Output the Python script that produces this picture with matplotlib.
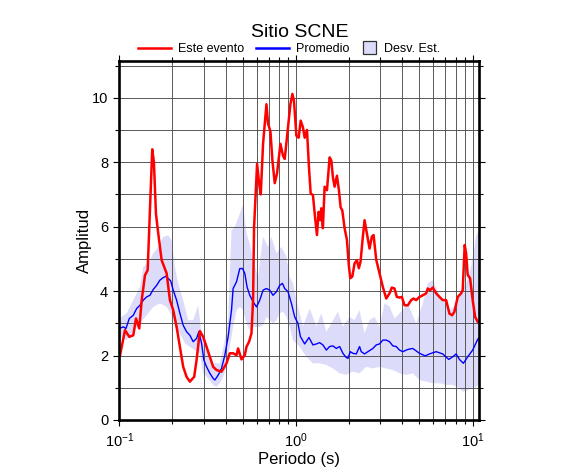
import numpy as np
import matplotlib
matplotlib.use("Agg")
import matplotlib.pyplot as plt
import matplotlib.patches as mpatches
from matplotlib.lines import Line2D
from matplotlib.legend_handler import HandlerPatch
from matplotlib.ticker import LogLocator, MultipleLocator, NullFormatter

plt.rcParams['font.family'] = ['Liberation Sans', 'DejaVu Sans']

# Este evento (red)
red_T = [0.1009, 0.1077, 0.1139, 0.1200, 0.1243, 0.1297, 0.1339, 0.1397, 0.1447, 0.1497,
         0.1536, 0.1570, 0.1612, 0.1661, 0.1736, 0.1853, 0.1934, 0.2019, 0.2110, 0.2203,
         0.2299, 0.2403, 0.2508, 0.2653, 0.2737, 0.2857, 0.2983, 0.3118, 0.3254, 0.3397,
         0.3550, 0.3789, 0.4045, 0.4222, 0.4407, 0.4606, 0.4703, 0.4915, 0.5131, 0.5245,
         0.5426, 0.5598, 0.5716, 0.5791, 0.6022, 0.6180, 0.6318, 0.6510, 0.6804, 0.6947,
         0.7168, 0.7356, 0.7580, 0.7810, 0.8163, 0.8444, 0.8633, 0.9013, 0.9298, 0.9543,
         0.9743, 1.005, 1.036, 1.063, 1.095, 1.120, 1.154, 1.184, 1.211, 1.247,
         1.287, 1.314, 1.343, 1.373, 1.391, 1.420, 1.452, 1.497, 1.550, 1.585,
         1.618, 1.654, 1.705, 1.750, 1.789, 1.829, 1.884, 1.942, 1.993, 2.029,
         2.083, 2.146, 2.211, 2.269, 2.320, 2.390, 2.444, 2.518, 2.608, 2.688,
         2.748, 2.846, 2.971, 3.101, 3.241, 3.384, 3.486, 3.611, 3.721, 3.854,
         3.972, 4.113, 4.294, 4.487, 4.624, 4.788, 5.0, 5.219, 5.455, 5.570,
         5.746, 5.943, 6.212, 6.485, 6.770, 7.076, 7.388, 7.651, 7.884, 8.230,
         8.602, 8.782, 9.013, 9.180, 9.371, 9.667, 10.0, 10.32, 10.67, 10.9]
red_A = [2.00, 2.79, 2.58, 2.63, 3.15, 2.84, 3.72, 4.49, 4.65, 6.80,
         8.40, 8.00, 6.40, 5.79, 4.96, 4.55, 3.72, 3.41, 2.89, 2.27,
         1.65, 1.34, 1.19, 1.34, 1.86, 2.76, 2.58, 2.27, 1.96, 1.65,
         1.55, 1.50, 1.76, 2.07, 2.07, 2.01, 2.22, 1.88, 2.01, 2.27,
         2.43, 2.69, 3.72, 5.98, 7.95, 7.35, 7.00, 8.57, 9.80, 9.20,
         8.95, 8.05, 7.35, 7.65, 8.57, 8.20, 8.10, 9.08, 9.80, 10.12,
         9.90, 8.82, 8.76, 9.29, 9.08, 8.76, 9.00, 7.85, 7.03, 6.98,
         6.20, 5.74, 6.46, 6.20, 6.57, 5.95, 7.24, 7.13, 8.15, 8.05,
         7.53, 7.24, 7.58, 7.13, 6.60, 6.50, 5.95, 5.59, 4.77, 4.40,
         4.45, 4.86, 4.96, 4.71, 4.92, 5.69, 6.20, 5.79, 5.32, 5.69,
         5.74, 4.97, 4.55, 4.13, 3.77, 3.93, 4.11, 4.08, 3.82, 3.80,
         3.82, 3.56, 3.56, 3.72, 3.77, 3.72, 3.82, 3.87, 3.93, 4.08,
         4.03, 4.11, 3.93, 3.82, 3.72, 3.72, 3.30, 3.25, 3.36, 3.82,
         3.93, 4.03, 5.43, 5.17, 4.50, 4.40, 3.72, 3.20, 3.05, 3.02]

# Promedio (blue)
blue_T = [0.1, 0.1053, 0.1091, 0.1139, 0.1200, 0.1254, 0.1309, 0.1367, 0.1428, 0.1491,
          0.1556, 0.1627, 0.1698, 0.1773, 0.1836, 0.1892, 0.1952, 0.2019, 0.2110, 0.2203,
          0.2299, 0.2403, 0.2508, 0.2619, 0.2737, 0.2820, 0.2921, 0.3010, 0.3118, 0.3254,
          0.3397, 0.3472, 0.3625, 0.3789, 0.3956, 0.4129, 0.4315, 0.4407, 0.4606, 0.4808,
          0.4981, 0.5131, 0.5285, 0.5475, 0.5716, 0.5975, 0.6237, 0.6510, 0.6804, 0.7102,
          0.7413, 0.7749, 0.8088, 0.8378, 0.8633, 0.9013, 0.9419, 0.9833, 1.026, 1.059,
          1.120, 1.184, 1.247, 1.304, 1.361, 1.420, 1.485, 1.550, 1.618, 1.691,
          1.766, 1.843, 1.909, 1.967, 2.029, 2.099, 2.194, 2.290, 2.341, 2.444,
          2.552, 2.723, 2.846, 2.971, 3.101, 3.241, 3.384, 3.532, 3.692, 3.854,
          4.023, 4.294, 4.581, 5.0, 5.385, 5.694, 6.212, 6.770, 7.320, 7.709,
          8.058, 8.412, 8.862, 9.371, 10.0, 10.67, 10.9]
blue_A = [2.84, 2.89, 2.84, 3.15, 3.25, 3.46, 3.56, 3.72, 3.82, 3.87,
          4.05, 4.18, 4.34, 4.42, 4.46, 4.39, 4.32, 4.03, 3.72, 3.31,
          2.94, 2.74, 2.63, 2.43, 2.53, 2.74, 2.38, 1.86, 1.65, 1.45,
          1.29, 1.24, 1.39, 1.60, 2.01, 2.58, 3.41, 4.08, 4.29, 4.70,
          4.70, 4.55, 4.13, 3.87, 3.67, 3.51, 3.72, 4.03, 4.08, 4.03,
          3.87, 3.98, 4.18, 4.24, 4.08, 3.98, 3.62, 3.20, 3.00, 2.59,
          2.36, 2.56, 2.33, 2.36, 2.40, 2.33, 2.17, 2.28, 2.30, 2.22,
          2.28, 2.07, 1.96, 1.91, 2.12, 2.07, 2.05, 2.28, 2.12, 2.05,
          2.12, 2.22, 2.33, 2.36, 2.48, 2.48, 2.43, 2.30, 2.28, 2.17,
          2.12, 2.19, 2.22, 2.07, 1.99, 2.05, 2.12, 2.05, 1.88, 1.96,
          2.05, 1.88, 1.76, 1.96, 2.17, 2.50, 2.56]

# Desv. Est. band
up_T = [0.1, 0.1101, 0.1200, 0.1309, 0.1367, 0.1491, 0.1556, 0.1661, 0.1773, 0.1892,
        0.1977, 0.2064, 0.2154, 0.2299, 0.2453, 0.2619, 0.2795, 0.2921, 0.3118, 0.3397,
        0.3706, 0.3956, 0.4129, 0.4315, 0.4505, 0.4808, 0.5020, 0.5245, 0.5475, 0.5716,
        0.6100, 0.6510, 0.6947, 0.7261, 0.7749, 0.8269, 0.8828, 0.9213, 0.9617, 1.026,
        1.095, 1.195, 1.304, 1.391, 1.485, 1.585, 1.728, 1.843, 2.011, 2.146,
        2.290, 2.444, 2.608, 2.784, 2.971, 3.170, 3.384, 3.611, 3.940, 4.294,
        4.788, 5.219, 5.570, 5.943, 6.485, 6.921, 7.388, 7.884, 8.412, 9.180,
        9.795, 10.45, 10.9]
up_A = [3.15, 3.31, 3.72, 4.13, 4.75, 4.96, 5.17, 5.37, 5.68, 5.73,
        5.58, 4.75, 4.24, 3.72, 3.10, 3.10, 3.56, 2.69, 2.27, 1.76,
        1.76, 2.48, 3.10, 5.89, 5.99, 6.40, 6.70, 5.79, 5.48, 4.96,
        4.44, 5.68, 5.37, 5.68, 5.17, 5.37, 5.07, 4.44, 4.24, 3.52,
        2.90, 3.46, 2.90, 3.31, 2.74, 3.00, 3.36, 2.90, 3.20, 3.10,
        3.41, 2.69, 3.10, 3.20, 2.90, 3.62, 3.52, 3.15, 3.36, 3.62,
        3.00, 3.62, 4.24, 4.34, 3.88, 3.72, 3.41, 3.52, 3.93, 4.24,
        4.76, 5.69, 5.95]
lo_T = [0.1, 0.1101, 0.1200, 0.1309, 0.1428, 0.1556, 0.1698, 0.1853, 0.1977, 0.2064,
        0.2203, 0.2350, 0.2508, 0.2677, 0.2857, 0.2983, 0.3183, 0.3397, 0.3550, 0.3706,
        0.3869, 0.4045, 0.4222, 0.4407, 0.4606, 0.4808, 0.5020, 0.5245, 0.5475, 0.5716,
        0.6237, 0.6510, 0.6804, 0.7102, 0.7413, 0.7749, 0.8088, 0.8444, 0.8828, 0.9213,
        0.9617, 1.049, 1.145, 1.247, 1.361, 1.485, 1.618, 1.766, 1.927, 2.099,
        2.290, 2.498, 2.723, 2.971, 3.241, 3.532, 3.854, 4.205, 4.581, 5.0,
        5.455, 5.943, 6.485, 7.076, 7.709, 8.412, 8.782, 9.371, 10.0, 10.9]
lo_A = [2.58, 2.48, 2.74, 3.00, 3.25, 3.51, 3.62, 3.51, 3.25, 2.89,
        2.69, 2.38, 2.27, 2.17, 2.07, 1.45, 1.29, 1.08, 1.03, 1.14,
        1.34, 1.65, 2.27, 2.89, 3.41, 3.51, 3.41, 3.00, 2.79, 2.89,
        2.89, 2.94, 3.20, 3.10, 3.00, 3.10, 3.31, 3.36, 3.20, 2.89,
        2.48, 2.28, 1.96, 1.76, 1.76, 1.71, 1.60, 1.45, 1.40, 1.50,
        1.45, 1.65, 1.60, 1.65, 1.60, 1.55, 1.45, 1.40, 1.45, 1.24,
        1.19, 1.14, 1.14, 1.09, 1.09, 0.98, 0.88, 0.93, 0.98, 1.09]

band_color = '#dcdcfa'

fig = plt.figure(figsize=(5.86, 4.75), dpi=100)
ax = fig.add_axes([0.2036, 0.1158, 0.6143, 0.7564])

ax.fill(np.r_[up_T, lo_T[::-1]], np.r_[up_A, lo_A[::-1]], color=band_color, lw=0, zorder=1)
ax.plot(blue_T, blue_A, color='#0000ff', lw=1.0, zorder=3)
ax.plot(red_T, red_A, color='#ff0000', lw=1.8, zorder=4)

ax.set_xscale('log')
ax.set_xlim(0.1, 10.9)
ax.set_ylim(0, 11.15)
ax.xaxis.set_major_locator(LogLocator(base=10))
ax.xaxis.set_minor_locator(LogLocator(base=10, subs=np.arange(2, 10)))
ax.xaxis.set_minor_formatter(NullFormatter())
ax.yaxis.set_major_locator(MultipleLocator(2))
ax.yaxis.set_minor_locator(MultipleLocator(1))

ax.grid(True, which='both', color='#4d4d4d', lw=0.65, zorder=2)
ax.set_axisbelow(False)
for s in ax.spines.values():
    s.set_linewidth(1.9)
    s.set_zorder(5)

ax.tick_params(which='both', direction='out', top=True, right=True, labelsize=10.5, width=0.8)
ax.tick_params(which='major', length=4, pad=4)
ax.tick_params(which='minor', length=3)

ax.set_xlabel('Periodo (s)', fontsize=12, labelpad=2)
ax.set_ylabel('Amplitud', fontsize=12, labelpad=0)
ax.set_title('Sitio SCNE', fontsize=14, pad=17)


def square_patch(legend, orig_handle, xdescent, ydescent, width, height, fontsize):
    s = width
    return mpatches.Rectangle((-xdescent, -ydescent + (height - s) / 2), s, s)


line_handles = [Line2D([], [], color='#ff0000', lw=1.8),
                Line2D([], [], color='#0000ff', lw=1.8)]
leg1 = ax.legend(line_handles, ['Este evento', 'Promedio'], loc='center',
                 bbox_to_anchor=(0.345, 1.0326), ncol=2, frameon=False, fontsize=9,
                 handlelength=2.65, handletextpad=0.55, columnspacing=1.0,
                 borderpad=0, borderaxespad=0)
ax.add_artist(leg1)

band_handle = mpatches.Patch(facecolor=band_color, edgecolor='#333333', lw=0.9)
ax.legend([band_handle], ['Desv. Est.'], loc='center', bbox_to_anchor=(0.784, 1.0326),
          frameon=False, fontsize=9, handlelength=1.05, handletextpad=0.7,
          borderpad=0, borderaxespad=0,
          handler_map={mpatches.Patch: HandlerPatch(patch_func=square_patch)})

fig.savefig('out.png', dpi=100)
